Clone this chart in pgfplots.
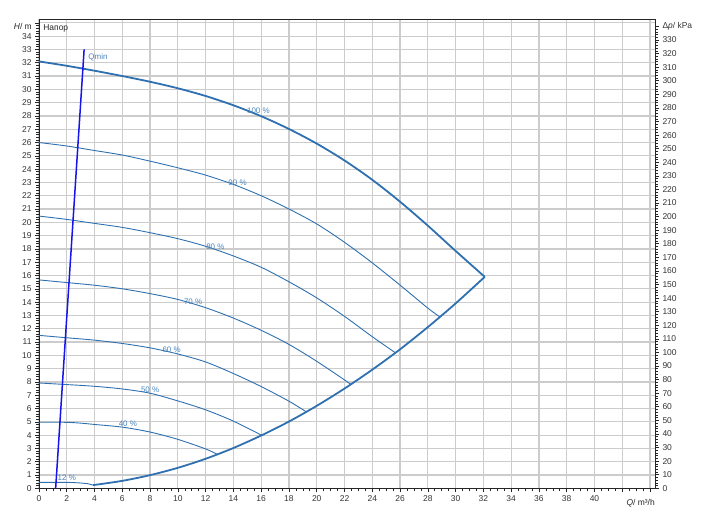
\documentclass[border=0pt]{standalone}
\usepackage{fontspec}
\setmainfont{Liberation Sans}
\usepackage{pgfplots}
\pgfplotsset{compat=1.18}
\definecolor{curve}{RGB}{46,112,176}
\definecolor{lab}{RGB}{74,132,190}
\definecolor{qmin}{RGB}{20,20,235}
\definecolor{gridc}{RGB}{204,204,204}
\begin{document}
\begin{tikzpicture}
\begin{axis}[
  name=main,
  scale only axis, width=616bp, height=469.3bp,
  xmin=0, xmax=44.36, ymin=0, ymax=35.29,
  clip=false,
  axis line style={draw=black!85, line width=0.8bp},
  xtick={0,2,...,44}, ytick={0,1,...,35},
  xticklabels={0,2,4,6,8,10,12,14,16,18,20,22,24,26,28,30,32,34,36,38,40,{},{}},
  yticklabels={0,1,2,3,4,5,6,7,8,9,10,11,12,13,14,15,16,17,18,19,20,21,22,23,24,25,26,27,28,29,30,31,32,33,34,{}},
  minor x tick num=3, minor y tick num=4,
  xtick pos=bottom, ytick pos=left,
  tick align=outside,
  major tick length=4bp, minor tick length=2.5bp,
  every tick/.style={black!85, line width=0.6bp},
  grid=major,
  major grid style={gridc, line width=1.2bp},
  /pgf/number format/assume math mode=true,
  ticklabel style={font=\fontsize{8.5}{10}\selectfont, text=black!80},
]
% 100 %
\addplot[curve, line width=1.8bp, smooth] coordinates {
(0,32.1)(2,31.77)(4,31.4)(6,31.0)(8,30.57)(10,30.08)(12,29.5)(14,28.8)(16,27.98)(18,27.02)(20,25.92)(22,24.65)(24,23.2)(26,21.55)(28,19.75)(30,17.85)(32.1,15.9)};
% 90 %
\addplot[curve, line width=0.9bp, smooth] coordinates {
(0,26.0)(2,25.74)(4,25.4)(6,25.06)(8,24.6)(10,24.1)(12,23.55)(14,22.85)(16,22.0)(18,21.0)(20,19.88)(22,18.5)(24,16.95)(26,15.28)(28,13.55)(28.88,12.88)};
% 80 %
\addplot[curve, line width=0.9bp, smooth] coordinates {
(0,20.47)(2,20.22)(4,19.92)(6,19.62)(8,19.22)(10,18.77)(12,18.2)(14,17.47)(16,16.62)(18,15.53)(20,14.32)(22,12.93)(24,11.4)(25.68,10.18)};
% 70 %
\addplot[curve, line width=0.9bp, smooth] coordinates {
(0,15.67)(2,15.47)(4,15.27)(6,15.0)(8,14.64)(10,14.2)(12,13.58)(14,12.8)(16,11.88)(18,10.82)(20,9.55)(22,8.15)(22.47,7.8)};
% 60 %
\addplot[curve, line width=0.9bp, smooth] coordinates {
(0,11.5)(2,11.32)(4,11.14)(6,10.89)(8,10.56)(10,10.1)(12,9.5)(14,8.63)(16,7.65)(18,6.55)(19.26,5.74)};
% 50 %
\addplot[curve, line width=0.9bp, smooth] coordinates {
(0,7.92)(2,7.8)(4,7.67)(6,7.47)(8,7.15)(10,6.57)(12,5.9)(14,5.05)(16.05,3.98)};
% 40 %
\addplot[curve, line width=0.9bp, smooth] coordinates {
(0,4.97)(2,4.96)(3,4.9)(4,4.8)(6,4.6)(8,4.23)(10,3.68)(12,2.96)(12.84,2.55)};
% 12 %
\addplot[curve, line width=0.9bp] coordinates {
(0,0.45)(2,0.45)(2.5,0.43)(3,0.4)(3.5,0.35)(3.9,0.24)};
% end curve
\addplot[curve, line width=1.8bp, smooth] coordinates {
(3.9,0.24)(6,0.56)(8,0.99)(10,1.54)(12,2.22)(14,3.03)(16,3.97)(18,5.02)(20,6.2)(22,7.5)(24,8.92)(26,10.45)(28,12.12)(30,13.9)(32.1,15.9)};
% Qmin
\addplot[qmin, line width=1.5bp] coordinates {(1.2,0)(3.25,33.0)};

\begin{scope}[every node/.style={font=\fontsize{8}{9}\selectfont, text=lab, inner sep=0pt}]
\node at (axis cs:15.8,28.37) {100 \%};
\node at (axis cs:14.3,23.0) {90 \%};
\node at (axis cs:12.7,18.2) {80 \%};
\node at (axis cs:11.1,14.06) {70 \%};
\node at (axis cs:9.55,10.45) {60 \%};
\node at (axis cs:8.0,7.39) {50 \%};
\node at (axis cs:6.4,4.89) {40 \%};
\node at (axis cs:2.0,0.83) {12 \%};
\node at (axis cs:4.25,32.4) {Qmin};
\end{scope}
\node[anchor=west, font=\fontsize{8.5}{10}\selectfont, text=black!85, inner sep=0pt] at (axis cs:0.3,34.55) {Напор};
\node[anchor=east, font=\fontsize{8.5}{10}\selectfont, text=black!85, inner sep=0pt] at (axis cs:0,34.7) [xshift=-7bp] {\textit{H}/ m};
\node[anchor=east, font=\fontsize{8.5}{10}\selectfont, text=black!85, inner sep=0pt] at (axis cs:44.36,0) [yshift=-15bp] {\textit{Q}/ m³/h};
\end{axis}
\begin{axis}[
  scale only axis, width=616bp, height=469.3bp,
  xmin=0, xmax=44.36, ymin=0, ymax=345.5,
  axis x line=none, axis y line*=right,
  axis line style={draw=black!85, line width=0.8bp},
  ytick={0,10,...,340},
  yticklabels={0,10,20,30,40,50,60,70,80,90,100,110,120,130,140,150,160,170,180,190,200,210,220,230,240,250,260,270,280,290,300,310,320,330,{Δ\textit{p}/ kPa}},
  minor y tick num=4,
  ytick pos=right, yticklabel pos=right,
  tick align=outside,
  major tick length=4bp, minor tick length=2.5bp,
  every tick/.style={black!85, line width=0.6bp},
  /pgf/number format/assume math mode=true,
  ticklabel style={font=\fontsize{8.5}{10}\selectfont, text=black!80},
]
\addplot[draw=none] coordinates {(0,0)};
\end{axis}
\pgfresetboundingbox
\path[use as bounding box] ([xshift=-39bp,yshift=-38.7bp]main.south west) rectangle ([xshift=51bp,yshift=19bp]main.north east);
\end{tikzpicture}
\end{document}
